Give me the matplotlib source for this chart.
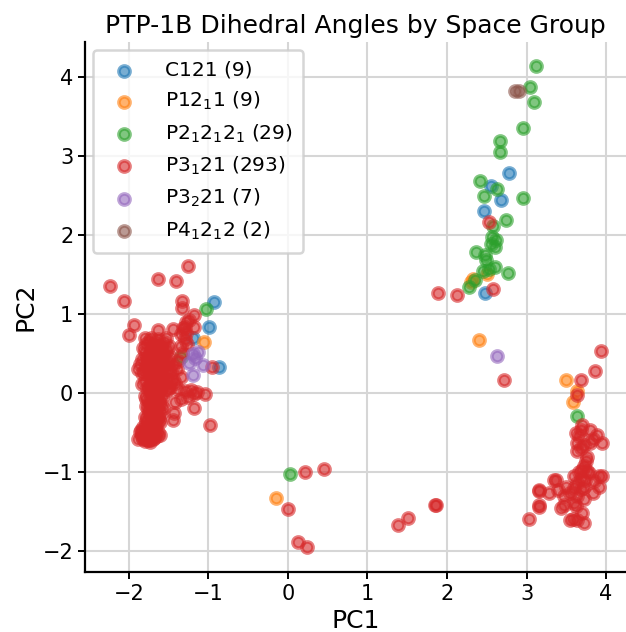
import matplotlib
matplotlib.use("Agg")
import matplotlib.pyplot as plt

title = "PTP-1B Dihedral Angles by Space Group"
labels = ["C121 (9)", "P12$_1$1 (9)", "P2$_1$2$_1$2$_1$ (29)",
          "P3$_1$21 (293)", "P3$_2$21 (7)", "P4$_1$2$_1$2 (2)"]
colors = ["#1f77b4", "#ff7f0e", "#2ca02c", "#d62728", "#9467bd", "#8c564b"]

c121_pts = [(2.78, 2.79), (2.55, 2.62), (2.68, 2.45), (2.47, 2.30), (2.48, 1.26),
            (-0.93, 1.15), (-0.99, 0.83), (-0.87, 0.33), (-1.19, 0.69)]

p1211_pts = [(2.50, 1.51), (2.30, 1.41), (2.33, 1.44), (-1.06, 0.65), (2.40, 0.67),
             (3.50, 0.16), (3.64, 0.02), (3.58, -0.11), (-0.15, -1.33)]

p212121_pts = [(3.12, 4.14), (3.04, 3.88), (3.09, 3.69), (2.96, 3.36), (2.67, 3.19),
               (2.66, 3.05), (2.42, 2.68), (2.63, 2.58), (2.47, 2.49), (2.95, 2.47),
               (2.58, 2.11), (2.74, 2.19), (2.62, 1.94), (2.55, 1.89), (2.60, 1.85),
               (2.37, 1.79), (2.48, 1.75), (2.49, 1.68), (2.60, 1.59), (2.53, 1.57),
               (2.45, 1.54), (2.77, 1.52), (2.35, 1.43), (2.28, 1.34), (2.56, 1.97),
               (-1.03, 1.06), (-1.34, 0.45), (3.64, -0.29), (0.03, -1.03)]

p3221_pts = [(2.63, 0.47), (-1.20, 0.49), (-1.13, 0.52), (-1.07, 0.35), (-1.20, 0.23),
             (-1.24, 0.38), (-1.17, 0.44)]

p41212_pts = [(2.85, 3.83), (2.90, 3.83)]

# P3121: scattered / outlying points
p3121_outer = [(-1.26, 1.61), (-1.63, 1.44), (-1.41, 1.42), (-2.24, 1.35), (-2.06, 1.16),
               (-1.33, 1.16), (-1.33, 1.07), (-1.18, 0.99), (-1.24, 0.92), (-1.93, 0.86),
               (-2.00, 0.73), (-1.80, 0.70), (-1.63, 0.80), (-1.45, 0.81), (-1.30, 0.84),
               (-1.18, 0.84), (-1.28, 0.76), (-1.53, 0.70), (-1.34, 0.59), (-1.49, 0.59),
               (-1.72, 0.54), (-1.88, 0.30), (-1.79, 0.42), (-0.95, 0.33), (-1.04, -0.02),
               (-1.18, -0.02), (-1.30, 0.02), (-1.18, -0.19), (-0.98, -0.41), (-1.43, -0.26),
               (-1.45, -0.34), (-1.61, -0.53), (-1.82, -0.43),
               (-1.28, 0.90), (-1.32, 0.82), (-1.35, 0.75), (-1.30, 0.68), (-1.27, 0.62),
               (-1.33, 0.50), (-1.38, 0.40), (-1.40, 0.30), (-1.35, 0.20), (-1.42, 0.12),
               (-1.38, 0.05), (-1.22, 0.04), (-1.14, 0.01), (-1.26, -0.05), (-1.35, -0.08),
               (-1.42, -0.12),
               (0.22, -1.00), (0.45, -0.97), (0.00, -1.47), (0.12, -1.89), (0.24, -1.96),
               (1.38, -1.67), (1.51, -1.59), (1.86, -1.42),
               (1.89, 1.27), (2.13, 1.24), (2.58, 1.32), (2.53, 2.16), (2.72, 0.16)]

# P3121: dense left cluster
p3121_left = [(-1.72, 0.70), (-1.64, 0.68), (-1.56, 0.64), (-1.78, 0.62), (-1.69, 0.60),
              (-1.60, 0.57), (-1.52, 0.54), (-1.80, 0.52), (-1.73, 0.50), (-1.65, 0.49),
              (-1.57, 0.47), (-1.48, 0.45), (-1.83, 0.43), (-1.76, 0.41), (-1.68, 0.40),
              (-1.60, 0.38), (-1.53, 0.36), (-1.45, 0.35), (-1.79, 0.33), (-1.71, 0.31),
              (-1.63, 0.30), (-1.55, 0.28), (-1.47, 0.26), (-1.84, 0.25), (-1.76, 0.23),
              (-1.68, 0.22), (-1.60, 0.20), (-1.52, 0.18), (-1.44, 0.17), (-1.80, 0.15),
              (-1.72, 0.13), (-1.64, 0.12), (-1.56, 0.10), (-1.48, 0.08), (-1.77, 0.06),
              (-1.69, 0.05), (-1.61, 0.03), (-1.53, 0.02), (-1.74, -0.01), (-1.66, -0.03),
              (-1.58, -0.05), (-1.78, -0.08), (-1.70, -0.10), (-1.62, -0.12), (-1.73, -0.15),
              (-1.65, -0.17), (-1.57, -0.19), (-1.76, -0.21), (-1.68, -0.23), (-1.60, -0.26),
              (-1.72, -0.28), (-1.64, -0.30), (-1.77, -0.33), (-1.69, -0.35), (-1.61, -0.37),
              (-1.74, -0.39), (-1.66, -0.41), (-1.78, -0.46), (-1.70, -0.47), (-1.63, -0.49),
              (-1.86, -0.50), (-1.79, -0.52), (-1.72, -0.53), (-1.65, -0.55), (-1.84, -0.56),
              (-1.77, -0.58), (-1.70, -0.59), (-1.80, -0.61), (-1.74, -0.62), (-1.88, -0.58),
              (-1.76, -0.50), (-1.73, -0.44), (-1.70, -0.20), (-1.66, 0.15), (-1.70, 0.45),
              (-1.62, 0.35), (-1.58, 0.22), (-1.74, 0.28), (-1.66, 0.08),
              (-1.75, 0.66), (-1.67, 0.63), (-1.59, 0.61), (-1.82, 0.57), (-1.63, 0.53),
              (-1.55, 0.50), (-1.77, 0.46), (-1.51, 0.40), (-1.86, 0.36), (-1.74, 0.35),
              (-1.58, 0.31), (-1.50, 0.29), (-1.81, 0.28), (-1.65, 0.26), (-1.70, 0.19),
              (-1.62, 0.16), (-1.48, 0.14), (-1.83, 0.11), (-1.75, 0.09), (-1.59, 0.07),
              (-1.51, 0.05), (-1.72, 0.01), (-1.64, -0.01), (-1.80, -0.04), (-1.68, -0.06),
              (-1.75, -0.12), (-1.60, -0.14), (-1.79, -0.17), (-1.71, -0.18), (-1.63, -0.22),
              (-1.75, -0.25), (-1.67, -0.27), (-1.80, -0.30), (-1.70, -0.32), (-1.62, -0.33),
              (-1.79, -0.37), (-1.71, -0.38), (-1.85, -0.47), (-1.75, -0.54), (-1.68, -0.51),
              (-1.82, -0.59), (-1.77, -0.55), (-1.72, -0.56), (-1.79, -0.48), (-1.67, -0.45),
              (-1.83, -0.53), (-1.76, -0.60), (-1.69, -0.57), (-1.78, -0.56), (-1.74, -0.58),
              (-1.81, -0.54), (-1.73, -0.51), (-1.70, -0.40), (-1.66, -0.36), (-1.72, -0.34),
              (-1.68, -0.14), (-1.64, -0.08), (-1.70, 0.10), (-1.60, 0.42), (-1.66, 0.55)]

# P3121: right cluster
p3121_right = [(3.94, 0.53), (3.86, 0.28), (3.69, 0.16), (3.64, -0.03), (1.85, -1.42),
               (3.03, -1.60), (3.70, -0.41), (3.80, -0.47), (3.89, -0.53), (3.95, -0.63),
               (3.62, -0.51), (3.63, -0.64), (3.72, -0.66), (3.80, -0.64), (3.63, -0.74),
               (3.76, -0.81), (3.75, -0.87), (3.72, -0.93), (3.76, -0.99), (3.91, -1.06),
               (3.95, -1.06), (3.60, -1.06), (3.68, -1.08), (3.64, -1.14), (3.72, -1.19),
               (3.83, -1.27), (3.91, -1.19), (3.37, -1.10), (3.16, -1.23), (3.28, -1.27),
               (3.39, -1.23), (3.49, -1.19), (3.55, -1.27), (3.47, -1.31), (3.64, -1.31),
               (3.16, -1.42), (3.47, -1.42), (3.43, -1.46), (3.60, -1.40), (3.72, -1.35),
               (3.55, -1.61), (3.64, -1.61), (3.72, -1.65), (3.70, -1.52), (3.15, -1.45),
               (3.15, -1.24), (3.35, -1.10), (3.66, -0.55), (3.68, -0.70), (3.70, -0.98),
               (3.66, -1.00), (3.74, -1.10), (3.68, -1.22), (3.60, -1.20), (3.58, -1.60),
               (3.69, -0.47), (3.84, -0.58), (3.78, -1.02), (3.85, -1.12), (3.62, -1.44)]

p3121_pts = p3121_outer + p3121_left + p3121_right

series = [c121_pts, p1211_pts, p212121_pts, p3121_pts, p3221_pts, p41212_pts]

fig = plt.figure(figsize=(6.26, 6.32), dpi=100)
ax = fig.add_axes([0.136, 0.095, 0.864, 0.839])

for pts, lab, col in zip(series, labels, colors):
    xs = [p[0] for p in pts]
    ys = [p[1] for p in pts]
    ax.scatter(xs, ys, s=64, color=col, edgecolors=col, linewidths=2.6,
               alpha=0.6, label=lab, zorder=3)

ax.set_xlim(-2.55, 4.25)
ax.set_ylim(-2.27, 4.45)
ax.set_xticks([-2, -1, 0, 1, 2, 3, 4])
ax.set_yticks([-2, -1, 0, 1, 2, 3, 4])
ax.grid(True, color="#d6d6d6", linewidth=1.5, zorder=0)
ax.set_axisbelow(True)
for s in ["top", "right"]:
    ax.spines[s].set_visible(False)
for s in ["left", "bottom"]:
    ax.spines[s].set_linewidth(1.6)
ax.tick_params(labelsize=15, width=1.4, length=5)
ax.set_xlabel("PC1", fontsize=18)
ax.set_ylabel("PC2", fontsize=18)
ax.set_title(title, fontsize=18)

leg = ax.legend(loc="upper left", fontsize=14.5, handletextpad=1.0,
                borderpad=0.55, labelspacing=0.5, framealpha=0.8,
                edgecolor="#cccccc", borderaxespad=0.4)
leg.get_frame().set_linewidth(1.8)

fig.savefig("out.png", dpi=100)
